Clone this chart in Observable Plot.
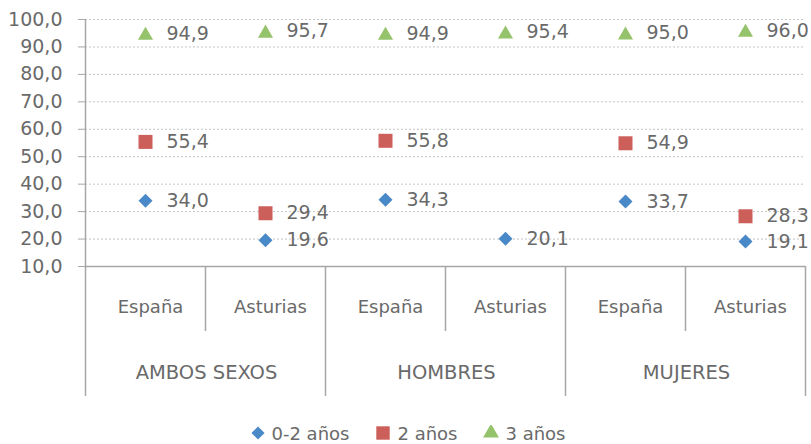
<!DOCTYPE html>
<html>
<head>
<meta charset="utf-8">
<script src="https://cdn.jsdelivr.net/npm/d3@7"></script>
<script src="https://cdn.jsdelivr.net/npm/@observablehq/plot@0.6"></script>
<style>
  html, body { margin: 0; padding: 0; background: #fff; }
  #legend { display: flex; justify-content: center; align-items: center; height: 20px; margin-top: 11px;
            font-family: "DejaVu Sans"; font-size: 18px; color: #6a6a6a; padding-left: 4px; }
  #legend .item { display: flex; align-items: center; margin: 0 13px; }
  #legend svg { margin-right: 6px; }
</style>
</head>
<body>
<div id="chart"></div>
<div id="legend"></div>
<script>
const groups = ["AMBOS SEXOS", "HOMBRES", "MUJERES"];
const regions = ["España", "Asturias"];
const series = ["0-2 años", "2 años", "3 años"];
const values02 = [34.0, 19.6, 34.3, 20.1, 33.7, 19.1];
const values2 = [55.4, 29.4, 55.8, null, 54.9, 28.3];
const values3 = [94.9, 95.7, 94.9, 95.4, 95.0, 96.0];
const yTicks = [10, 20, 30, 40, 50, 60, 70, 80, 90, 100];

const colors = {"0-2 años": "#4a89c8", "2 años": "#cd5f5a", "3 años": "#95c36b"};
const symbols = {"0-2 años": "diamond2", "2 años": "square", "3 años": "triangle"};
const radii = {"0-2 años": 6.3, "2 años": 7.9, "3 años": 5.6};

const cats = [];
groups.forEach((g, gi) => regions.forEach((r, ri) => cats.push({group: g, region: r, idx: gi * regions.length + ri})));

const rows = [];
[values02, values2, values3].forEach((vals, si) => {
  vals.forEach((v, i) => {
    if (v != null) rows.push({series: series[si], idx: cats[i].idx, value: v});
  });
});

const fmt = d => d.toFixed(1).replace(".", ",");
const n = cats.length;
const subSeps = d3.range(1, n, 2);
const groupSeps = d3.range(0, n + 1, 2);

const axisColor = "#a6a6a6";
const textColor = "#6a6a6a";

const dotOpts = (filterFn, dy) => ({
  filter: filterFn,
  x: d => d.idx + 0.5, y: "value",
  symbol: d => symbols[d.series], fill: d => colors[d.series], r: d => radii[d.series],
  dy, stroke: "none"
});

const chart = Plot.plot({
  width: 811,
  height: 412,
  marginLeft: 85,
  marginRight: 6,
  marginTop: 19,
  marginBottom: 146,
  style: {fontFamily: "DejaVu Sans", fontSize: "19px", color: textColor, background: "white"},
  x: {type: "linear", domain: [0, n], label: null},
  y: {domain: [10, 100], label: null},
  symbol: {type: "identity"},
  color: {type: "identity"},
  r: {type: "identity"},
  marks: [
    Plot.gridY(yTicks.filter(t => t > 10), {stroke: "#c4c4c4", strokeOpacity: 1, strokeDasharray: "2,2", strokeWidth: 1}),
    Plot.axisY({ticks: yTicks, tickFormat: fmt, tickSize: 7, tickPadding: 16, stroke: axisColor, fill: textColor, fontSize: 19, label: null}),
    Plot.ruleX([0], {stroke: axisColor, strokeWidth: 1.5}),
    Plot.ruleY([10], {stroke: axisColor, strokeWidth: 1.5}),
    Plot.axisX({ticks: groupSeps, tickSize: 130, tickFormat: () => "", stroke: axisColor, strokeWidth: 1.5, label: null}),
    Plot.axisX({ticks: subSeps, tickSize: 65, tickFormat: () => "", stroke: axisColor, strokeWidth: 1.5, label: null}),
    Plot.text(cats, {x: d => d.idx + 0.5, text: "region", frameAnchor: "bottom", dy: 46, dx: 5, fontSize: 18, fill: textColor}),
    Plot.text(groups.map((g, gi) => ({g, c: gi * regions.length + regions.length / 2})), {x: "c", text: "g", frameAnchor: "bottom", dy: 112, dx: 1, fontSize: 19.5, fill: textColor}),
    Plot.dot(rows, dotOpts(d => d.series !== "3 años", 0)),
    Plot.dot(rows, dotOpts(d => d.series === "3 años", 2)),
    Plot.text(rows, {x: d => d.idx + 0.5, y: "value", text: d => fmt(d.value), dx: 21, textAnchor: "start", fontSize: 19, fill: textColor})
  ]
});
document.getElementById("chart").appendChild(chart);

// Legend
const legend = document.getElementById("legend");
series.forEach(s => {
  const item = document.createElement("div");
  item.className = "item";
  const svg = d3.create("svg").attr("width", 16).attr("height", 16);
  const sym = {"diamond2": d3.symbolDiamond2, "square": d3.symbolSquare, "triangle": d3.symbolTriangle}[symbols[s]];
  const size = {"0-2 años": 110, "2 años": 180, "3 años": 110}[s];
  svg.append("path").attr("transform", "translate(8,8)").attr("d", d3.symbol(sym, size)()).attr("fill", colors[s]);
  item.appendChild(svg.node());
  const span = document.createElement("span");
  span.textContent = s;
  item.appendChild(span);
  legend.appendChild(item);
});
</script>
</body>
</html>
